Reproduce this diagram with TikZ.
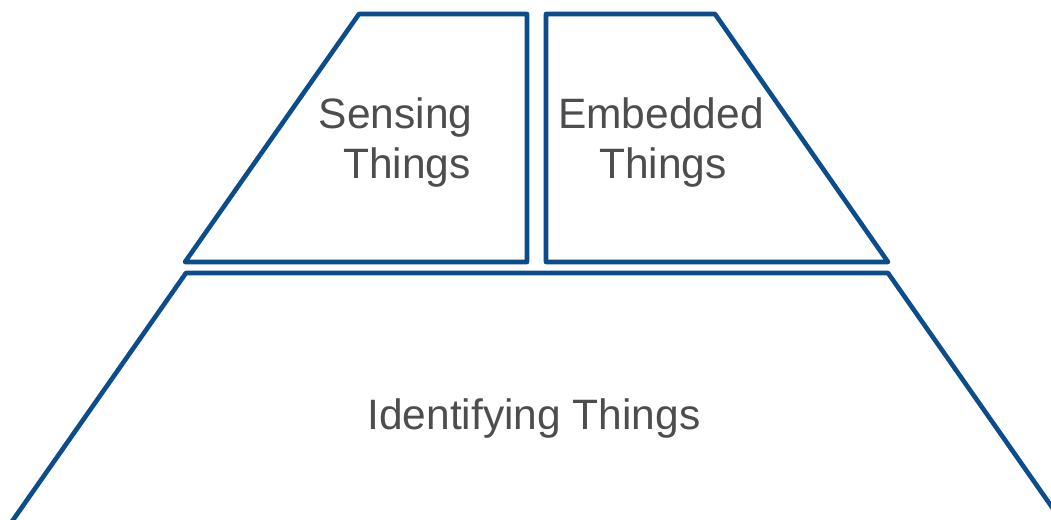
\documentclass[tikz,border=0pt]{standalone}
\usepackage{fontspec}
\setmainfont{Liberation Sans}
\definecolor{edgeblue}{RGB}{11,76,140}
\definecolor{txtgray}{RGB}{77,77,77}
\begin{document}
\begin{tikzpicture}[x=1pt,y=-1pt,
  tier/.style={draw=edgeblue,line width=4.6pt,line join=round},
  lbl/.style={text=txtgray,font=\fontsize{42.5}{50}\selectfont,inner sep=0pt,anchor=base}]
\useasboundingbox (0,0) rectangle (1051,519);
\fill[white] (0,0) rectangle (1051,519);
% top-left tier
\draw[tier] (359,14) -- (527,14) -- (527,262) -- (185,262) -- cycle;
% top-right tier
\draw[tier] (546,14) -- (715,14) -- (888,262) -- (546,262) -- cycle;
% bottom tier
\begin{scope}
\clip (0,0) rectangle (1051,519);
\draw[tier] (-15,560) -- (186,273) -- (888,273) -- (1089,560);
\end{scope}
\node[lbl] (sens1) at (402,128) {Sensing\hspace*{0.3em}};
\node[lbl] (sens2) at (407,178) {Things};
\node[lbl] (emb1) at (661,128) {Embedded};
\node[lbl] (emb2) at (663,178) {Things};
\node[lbl] (ident) at (534,429) {Identifying Things};
\end{tikzpicture}
\end{document}
